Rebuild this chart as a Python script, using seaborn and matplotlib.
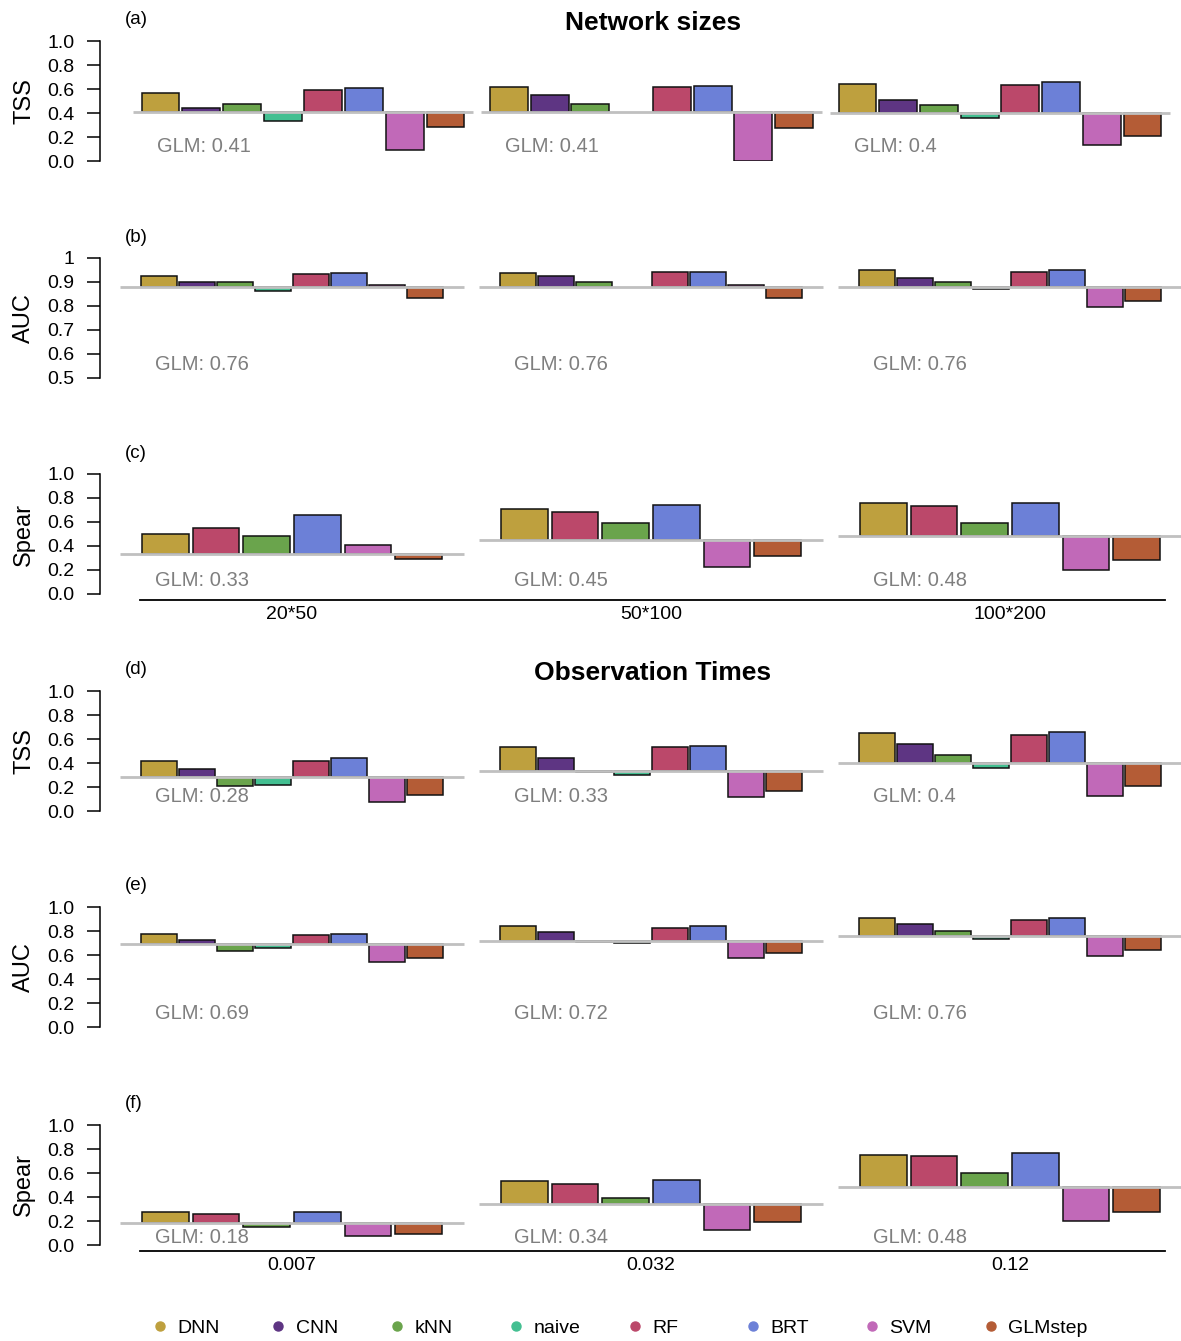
"""Model scores relative to the GLM baseline, by network size and observation time."""
import numpy as np
import pandas as pd
import seaborn as sns
import matplotlib.pyplot as plt
from matplotlib.lines import Line2D

sns.set_style("ticks")
plt.rcParams["font.family"] = ["Liberation Sans", "DejaVu Sans"]
plt.rcParams.update({"text.color": "black", "axes.labelcolor": "black",
                     "xtick.color": "black", "ytick.color": "black",
                     "axes.edgecolor": "black"})

# ---- data ----
size_groups = ["20*50", "50*100", "100*200"]
time_groups = ["0.007", "0.032", "0.12"]

models = ["DNN", "CNN", "kNN", "naive", "RF", "BRT", "SVM", "GLMstep"]
spear_models = ["DNN", "RF", "kNN", "BRT", "SVM", "GLMstep"]

colors = ["#BEA03E", "#5E3583", "#6AA44C", "#43BF91",
          "#BB486A", "#6C80D7", "#C169B8", "#B45C36"]

glm_tss_size = [0.41, 0.41, 0.40]
glm_auc_size = [0.76, 0.76, 0.76]
glm_spear_size = [0.33, 0.45, 0.48]
glm_tss_time = [0.28, 0.33, 0.40]
glm_auc_time = [0.69, 0.72, 0.76]
glm_spear_time = [0.18, 0.34, 0.48]

tss_size = {
    "DNN": [0.564, 0.613, 0.644],
    "CNN": [0.439, 0.549, 0.506],
    "kNN": [0.475, 0.474, 0.467],
    "naive": [0.331, np.nan, 0.358],
    "RF": [0.592, 0.613, 0.633],
    "BRT": [0.606, 0.629, 0.661],
    "SVM": [0.089, 0.0, 0.131],
    "GLMstep": [0.281, 0.279, 0.206],
}
auc_size = {
    "DNN": [0.852, 0.877, 0.902],
    "CNN": [0.799, 0.852, 0.835],
    "kNN": [0.799, 0.799, 0.799],
    "naive": [0.727, np.nan, 0.740],
    "RF": [0.866, 0.885, 0.885],
    "BRT": [0.879, 0.885, 0.902],
    "SVM": [0.772, 0.772, 0.588],
    "GLMstep": [0.666, 0.666, 0.641],
}
spear_size = {
    "DNN": [0.500, 0.706, 0.761],
    "RF": [0.553, 0.683, 0.733],
    "kNN": [0.486, 0.592, 0.594],
    "BRT": [0.656, 0.744, 0.761],
    "SVM": [0.408, 0.228, 0.200],
    "GLMstep": [0.294, 0.317, 0.281],
}
tss_time = {
    "DNN": [0.414, 0.530, 0.646],
    "CNN": [0.354, 0.439, 0.555],
    "kNN": [0.207, 0.322, 0.464],
    "naive": [0.215, 0.296, 0.359],
    "RF": [0.414, 0.530, 0.633],
    "BRT": [0.439, 0.544, 0.660],
    "SVM": [0.077, 0.116, 0.129],
    "GLMstep": [0.130, 0.166, 0.207],
}
auc_time = {
    "DNN": [0.778, 0.842, 0.906],
    "CNN": [0.723, 0.789, 0.859],
    "kNN": [0.632, 0.712, 0.803],
    "naive": [0.657, 0.698, 0.734],
    "RF": [0.767, 0.828, 0.892],
    "BRT": [0.778, 0.842, 0.906],
    "SVM": [0.543, 0.579, 0.590],
    "GLMstep": [0.579, 0.618, 0.643],
}
spear_time = {
    "DNN": [0.273, 0.533, 0.751],
    "RF": [0.262, 0.506, 0.740],
    "kNN": [0.152, 0.392, 0.599],
    "BRT": [0.273, 0.544, 0.765],
    "SVM": [0.077, 0.124, 0.202],
    "GLMstep": [0.091, 0.190, 0.279],
}

ticks_std = ["0.0", "0.2", "0.4", "0.6", "0.8", "1.0"]
ticks_auc_b = ["0.5", "0.6", "0.7", "0.8", "0.9", "1"]

palette = dict(zip(models, colors))

# ---- layout (pixels of a 1181x1341 canvas) ----
W, H = 1181, 1341
lay_a = dict(c0=303, unit=348.5, width=0.935, gap=0.07, half=0.489, text_dx=-0.42)
lay_8 = dict(c0=292, unit=359, width=0.847, gap=0.05, half=0.479, text_dx=-0.382)
lay_6 = dict(c0=292, unit=359, width=0.847, gap=0.075, half=0.479, text_dx=-0.382)

GREY_TXT = "#7f7f7f"
FS = 14


def draw_panel(ax, groups, glm, values, order, lay, ylab, ticklabels, tag,
               text_y=0.11, xaxis=False):
    rows = []
    for m in order:
        for g, v, b in zip(groups, values[m], glm):
            rows.append({"group": g, "model": m, "diff": v - b})
    df = pd.DataFrame(rows)

    sns.barplot(data=df, x="group", y="diff", hue="model", order=groups,
                hue_order=order, palette=palette, width=lay["width"],
                gap=lay["gap"], saturation=1, edgecolor="#111111",
                linewidth=1.1, legend=False, ax=ax)

    # bars start from their group's GLM score, not from zero
    for bar in ax.patches:
        gi = int(round(bar.get_x() + bar.get_width() / 2))
        bar.set_y(glm[gi])

    centers = np.arange(len(groups))
    ax.hlines(glm, centers - lay["half"], centers + lay["half"],
              color="#c0c0c0", lw=2, zorder=3)
    for c, b in zip(centers, glm):
        ax.text(c + lay["text_dx"], text_y, "GLM: {:g}".format(b),
                color=GREY_TXT, fontsize=14.5, ha="left", va="center")

    ax.set_xlim((100 - lay["c0"]) / lay["unit"], (W - lay["c0"]) / lay["unit"])
    ax.set_ylim(0, 1)
    ax.set_yticks(np.linspace(0, 1, 6))
    ax.set_yticklabels(ticklabels)
    ax.tick_params(axis="y", length=9.5, width=1.1, labelsize=FS, pad=9)
    ax.spines["left"].set_linewidth(1.1)
    ax.set_xlabel("")
    ax.set_ylabel("")
    ax.text(-0.07, 0.5, ylab, transform=ax.transAxes, rotation=90,
            ha="center", va="center", fontsize=17)
    ax.annotate(tag, xy=(0, 1), xycoords="axes fraction", xytext=(25, 21),
                textcoords="offset pixels", ha="left", va="center", fontsize=13.5)

    sns.despine(ax=ax, bottom=not xaxis)
    if xaxis:
        ax.spines["bottom"].set_position(("outward", 4.5))
        ax.spines["bottom"].set_bounds((140 - lay["c0"]) / lay["unit"],
                                       (1165 - lay["c0"]) / lay["unit"])
        ax.spines["bottom"].set_linewidth(1.3)
        ax.set_xticks(centers)
        ax.set_xticklabels(groups)
        ax.tick_params(axis="x", length=0, pad=4, labelsize=FS)
    else:
        ax.set_xticks([])


fig = plt.figure(figsize=(W / 100, H / 100), dpi=100)


def panel_axes(y_zero):
    return fig.add_axes([100 / W, 1 - y_zero / H, (W - 100) / W, 120 / H])


panels = [
    (161, size_groups, glm_tss_size, tss_size, models, lay_a, "TSS", ticks_std, "(a)", 0.117, False),
    (378, size_groups, glm_auc_size, auc_size, models, lay_8, "AUC", ticks_auc_b, "(b)", 0.11, False),
    (594, size_groups, glm_spear_size, spear_size, spear_models, lay_6, "Spear", ticks_std, "(c)", 0.11, True),
    (811, time_groups, glm_tss_time, tss_time, models, lay_8, "TSS", ticks_std, "(d)", 0.12, False),
    (1027, time_groups, glm_auc_time, auc_time, models, lay_8, "AUC", ticks_std, "(e)", 0.11, False),
    (1245, time_groups, glm_spear_time, spear_time, spear_models, lay_6, "Spear", ticks_std, "(f)", 0.06, True),
]
for y0, grp, glm, vals, order, lay, ylab, tl, tag, ty, xax in panels:
    ax = panel_axes(y0)
    draw_panel(ax, grp, glm, vals, order, lay, ylab, tl, tag, text_y=ty, xaxis=xax)

fig.text(653 / W, 1 - 23 / H, "Network sizes", ha="center", va="center",
         fontsize=19, fontweight="bold")
fig.text(653 / W, 1 - 673 / H, "Observation Times", ha="center", va="center",
         fontsize=19, fontweight="bold")

# legend entries are evenly spaced along the bottom, like R's horiz legend
for i, m in enumerate(models):
    h = Line2D([], [], ls="", marker="o", ms=6.5, color=palette[m])
    fig.legend([h], [m], loc="center left",
               bbox_to_anchor=((150 + 118.7 * i) / W, 1 - 1328 / H),
               frameon=False, fontsize=FS, handlelength=1, handletextpad=0.4,
               borderpad=0, borderaxespad=0)

fig.savefig("out.png", dpi=100)
